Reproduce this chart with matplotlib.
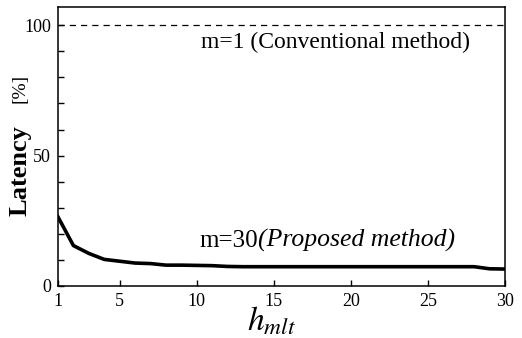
import matplotlib.pyplot as plt
import numpy as np

plt.rcParams['font.family'] = ['Liberation Serif', 'DejaVu Serif']
plt.rcParams['mathtext.fontset'] = 'stix'

# Latency relative to conventional method (m=1)
h_mlt = [1, 2, 3, 4, 5, 6, 7, 8, 9, 10, 11, 12, 13, 14, 15, 16, 17, 18, 19, 20,
         21, 22, 23, 24, 25, 26, 27, 28, 29, 30]
latency_m30 = [26.5, 15.5, 12.5, 10.2, 9.5, 8.8, 8.6, 8.0, 8.0, 7.9, 7.8, 7.5, 7.4, 7.4, 7.4,
               7.4, 7.4, 7.4, 7.4, 7.4, 7.4, 7.4, 7.4, 7.4, 7.4, 7.4, 7.4, 7.4, 6.6, 6.5]
latency_m1 = 100

fig = plt.figure(figsize=(5.22, 3.38), dpi=100)
ax = fig.add_axes([58/522, 1 - 286/338, (505-58)/522, (286-7)/338])

ax.plot(h_mlt, latency_m30, color='black', linewidth=2.6, solid_joinstyle='round')
ax.axhline(latency_m1, color='black', linewidth=0.9, linestyle=(0, (5, 4)))

ax.set_xlim(1, 30)
ax.set_ylim(0, 107)
ax.set_xticks([1, 5, 10, 15, 20, 25, 30])
ax.set_yticks([0, 50, 100])
ax.set_yticks(np.arange(0, 101, 10), minor=True)
ax.tick_params(axis='both', direction='in', labelsize=13, length=4, width=1, pad=5)
ax.tick_params(axis='y', which='minor', direction='in', length=4, width=1)
for s in ax.spines.values():
    s.set_linewidth(1.1)

ax.text(19.0, 93.5, 'm=1 (Conventional method)', fontsize=17, ha='center', va='center')
ax.text(14.0, 17.3, 'm=30', fontsize=18, ha='right', va='center')
ax.text(14.0, 17.3, '(Proposed method)', fontsize=18.5, ha='left', va='center', style='italic')

fig.text(20/522, 1 - 171/338, 'Latency', rotation=90, fontsize=19, fontweight='bold',
         ha='center', va='center')
fig.text(20/522, 1 - 88/338, '[%]', rotation=90, fontsize=14, ha='center', va='center')
fig.text(271/522, 1 - 321/338, r'$h_{mlt}$', fontsize=24, ha='center', va='center')

fig.savefig('out.png', dpi=100)
